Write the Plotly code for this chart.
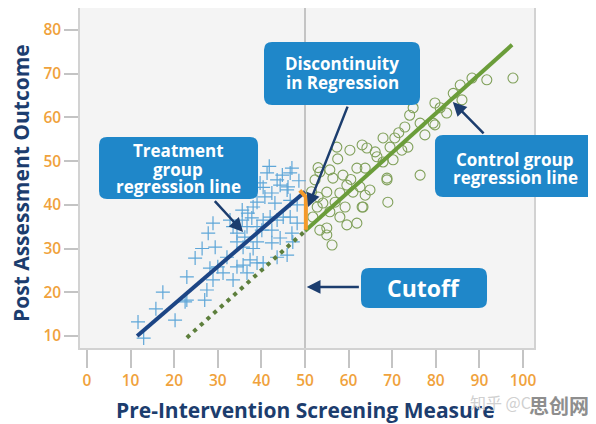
import plotly.graph_objects as go

# ---- data ----
treatment_x = [11.7, 20.2, 17.4, 15.8, 22.5, 22.9, 27.5, 27.0, 24.8, 26.4, 29.4, 27.8, 28.9, 32.8,
               34.4, 33.5, 28.2, 31.2, 35.6, 36.7, 37.8, 38.1, 39.0, 40.1, 41.3, 47.0, 46.6, 40.4,
               42.4, 44.3, 45.9, 46.6, 43.1, 48.2, 42.0, 45.0, 48.2, 47.0, 44.3, 42.4, 45.9, 43.6,
               40.4, 39.0, 38.1, 35.8, 34.4, 36.2, 39.0, 37.4, 35.8, 36.7, 22.9, 28.9, 30.0, 32.1,
               33.5, 35.6, 39.0, 40.8, 39.7, 43.6, 46.1, 43.6, 46.6, 47.2, 42.4, 40.4, 36.9, 34.4,
               13.0, 44.8, 48.6, 41.8]
treatment_y = [13.2, 13.6, 20.0, 16.2, 17.8, 23.5, 20.5, 18.2, 27.8, 30.0, 30.3, 33.5, 35.8, 36.5,
               25.8, 22.8, 25.5, 24.4, 38.8, 35.0, 37.0, 39.5, 35.0, 34.2, 47.3, 48.4, 47.3, 44.0,
               42.7, 44.5, 43.4, 41.0, 40.4, 40.0, 37.2, 37.2, 35.8, 33.5, 32.4, 31.3, 28.5, 28.0,
               26.7, 26.7, 30.0, 30.3, 31.5, 32.6, 31.5, 27.4, 26.2, 24.4, 18.2, 22.8, 25.8, 28.0,
               35.0, 36.5, 40.6, 41.8, 45.0, 45.7, 44.1, 36.5, 37.2, 31.5, 34.2, 36.5, 38.1, 33.5,
               9.5, 46.8, 45.5, 48.8]

control_x = [97.7, 91.7, 88.3, 85.6, 86.0, 79.8, 81.0, 74.8, 79.4, 76.4, 77.5, 72.9, 70.6, 67.9,
             69.5, 73.6, 72.2, 66.1, 64.2, 63.1, 60.3, 57.3, 70.2, 67.9, 63.8, 61.9, 55.7, 58.7,
             56.4, 53.4, 52.3, 59.6, 62.6, 64.9, 63.8, 68.8, 76.4, 69.0, 63.3, 61.0, 58.0, 55.0,
             53.0, 54.1, 56.9, 59.2, 58.0, 55.7, 52.8, 51.8, 59.6, 61.9, 55.0, 53.4, 55.0, 56.2,
             79.8, 68.8, 63.1, 51.5, 53.0, 66.5, 71.5, 82.5, 84.0, 57.5, 60.5, 74.0]
control_y = [69.0, 68.6, 69.0, 67.4, 64.0, 63.3, 62.2, 62.2, 58.7, 58.7, 56.0, 57.8, 55.3, 55.3,
             53.2, 53.2, 52.5, 52.1, 53.0, 53.7, 52.5, 53.2, 50.3, 49.8, 48.4, 48.4, 48.0, 46.8,
             46.1, 47.5, 45.7, 44.5, 44.1, 43.4, 42.2, 46.1, 46.8, 40.6, 39.5, 42.9, 42.7, 42.9,
             41.8, 40.4, 40.6, 39.5, 37.2, 38.4, 39.5, 37.2, 35.4, 35.8, 34.7, 34.2, 33.1, 30.8,
             58.3, 45.7, 39.5, 43.0, 48.5, 51.0, 56.5, 61.0, 65.5, 50.5, 45.8, 60.5]

treat_line_x, treat_line_y = [11.5, 50], [10, 43]
control_line_x, control_line_y = [50, 97.5], [34, 76.6]
extrap_x, extrap_y = [22.9, 50], [9.6, 34]
gap_x, gap_y = [50.2, 50.2, 48.8], [34.3, 41.8, 43.3]

x_ticks = [0, 10, 20, 30, 40, 50, 60, 70, 80, 90, 100]
y_ticks = [10, 20, 30, 40, 50, 60, 70, 80]

# ---- pixel layout (page pixels; the page body adds an 8px offset) ----
OFF = 8
W, H = 596 - OFF, 424 - OFF
L, R, T, B = 80, 534, 8, 348
X0, XS = 87, 4.36      # pixel of x=0, pixels per unit
Y80, YS = 30, 4.37     # pixel of y=80, pixels per unit


def px(x, y):
    return (x - L) / (R - L), (B - y) / (B - T)


def rounded_box(x0, y0, x1, y1, r=8):
    def p(x, y):
        a, b = px(x, y)
        return f"{a:.4f},{b:.4f}"
    path = (f"M {p(x0 + r, y0)} L {p(x1 - r, y0)} Q {p(x1, y0)} {p(x1, y0 + r)} "
            f"L {p(x1, y1 - r)} Q {p(x1, y1)} {p(x1 - r, y1)} L {p(x0 + r, y1)} "
            f"Q {p(x0, y1)} {p(x0, y1 - r)} L {p(x0, y0 + r)} Q {p(x0, y0)} {p(x0 + r, y0)} Z")
    return dict(type="path", xref="paper", yref="paper", path=path,
                fillcolor="#1f87c9", line=dict(width=0), layer="above")


def label(text, cx, cy, font, angle=0):
    ax_, ay_ = px(cx, cy)
    return dict(x=ax_, y=ay_, xref="paper", yref="paper", text=text, showarrow=False,
                xanchor="center", yanchor="middle", textangle=angle, font=font)


FONT = "Open Sans"
navy = "#1c3d6e"
box_font = dict(family=FONT, size=17, color="white", weight=700)
title_font = dict(family=FONT, size=21, color=navy, weight=700)

fig = go.Figure()
fig.add_trace(go.Scatter(x=treatment_x, y=treatment_y, mode="markers",
                         marker=dict(symbol="cross-thin-open", size=10, color="#5ea6d8",
                                     line=dict(color="#5ea6d8", width=1.2))))
fig.add_trace(go.Scatter(x=control_x, y=control_y, mode="markers",
                         marker=dict(symbol="circle-open", size=10, color="#80a05a",
                                     line=dict(color="#80a05a", width=1.1))))
fig.add_trace(go.Scatter(x=extrap_x, y=extrap_y, mode="lines",
                         line=dict(color="#5d7f3c", width=4, dash="4px,5px")))
fig.add_trace(go.Scatter(x=treat_line_x, y=treat_line_y, mode="lines",
                         line=dict(color="#1c4585", width=4)))
fig.add_trace(go.Scatter(x=control_line_x, y=control_line_y, mode="lines",
                         line=dict(color="#6b9d3a", width=4)))
fig.add_trace(go.Scatter(x=gap_x, y=gap_y, mode="lines",
                         line=dict(color="#f39a2b", width=4)))

shapes = [
    dict(type="line", xref="x", yref="paper", x0=50, x1=50, y0=0, y1=1,
         line=dict(color="#c4c4c4", width=2), layer="below"),
    rounded_box(99, 137, 258, 199),
    rounded_box(264, 42, 420, 105),
    rounded_box(435, 135, 595, 197),
    rounded_box(361, 268, 487, 308),
]

annotations = [
    label("Treatment", 178, 151, box_font),
    label("group", 178, 169, box_font),
    label("regression line", 178, 186, box_font),
    label("Discontinuity", 342, 64, box_font),
    label("in Regression", 342, 82, box_font),
    label("Control group", 515, 159, box_font),
    label("regression line", 515, 177, box_font),
    label("Cutoff", 423, 288, dict(box_font, size=23)),
    label("Pre-Intervention Screening Measure", 305, 410, title_font),
    label("Post Assessment Outcome", 21, 183, title_font, angle=-90),
    label("知乎 @C", 500, 402, dict(family="Noto Sans CJK SC", size=16, color="#d0d0d0")),
    label("思创网", 559, 405, dict(family="Noto Sans CJK SC", size=20, color="#8e8e8e", weight=700)),
]

# arrows: head and tail both in data coords
for hx, hy, tx, ty in [(35.8, 33.8, 29.0, 41.2),
                       (50.7, 39.5, 59.9, 62.8),
                       (83.9, 63.5, 91.3, 56.0),
                       (50.4, 21.2, 62.7, 21.2)]:
    annotations.append(dict(x=hx, y=hy, ax=tx, ay=ty, xref="x", yref="y", axref="x", ayref="y",
                            text="", showarrow=True, arrowhead=2, arrowsize=1.1,
                            arrowwidth=2.5, arrowcolor=navy))

fig.update_layout(
    width=W, height=H,
    margin=dict(l=L - OFF, r=W + OFF - R, t=T - OFF, b=H + OFF - B),
    paper_bgcolor="white", plot_bgcolor="#f4f4f4",
    showlegend=False, shapes=shapes, annotations=annotations,
)
fig.update_xaxes(range=[(L - X0) / XS, (R - X0) / XS], tickvals=x_ticks, automargin=False,
                 showgrid=False, zeroline=False, showline=True, mirror=True,
                 linecolor="#d2d2d2", linewidth=1.5,
                 ticks="outside", ticklen=18, tickwidth=2, tickcolor="#c4c4c4",
                 tickfont=dict(family=FONT, size=15.5, color="#f0a23c", weight=600))
fig.update_yaxes(range=[80 - (B - Y80) / YS, 80 + (Y80 - T) / YS], tickvals=y_ticks,
                 automargin=False,
                 showgrid=False, zeroline=False, showline=True, mirror=True,
                 linecolor="#d2d2d2", linewidth=1.5,
                 ticks="outside", ticklen=14, tickwidth=2, tickcolor="#c4c4c4",
                 tickfont=dict(family=FONT, size=15.5, color="#f0a23c", weight=600))

fig.write_html("out.html")
